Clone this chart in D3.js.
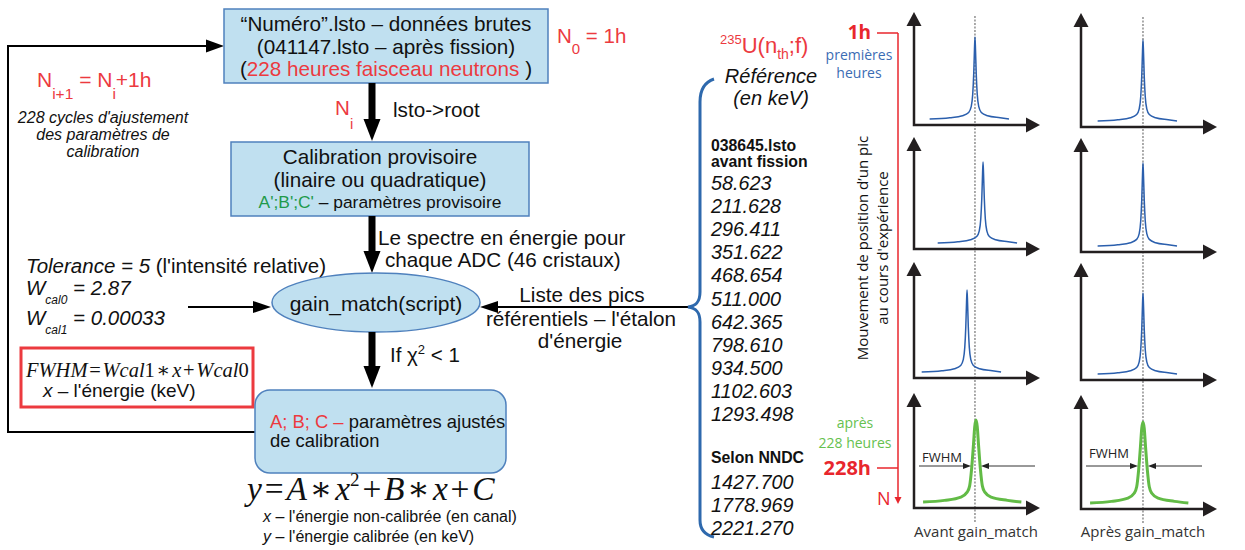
<!DOCTYPE html>
<html>
<head>
<meta charset="utf-8">
<script src="https://cdn.jsdelivr.net/npm/d3@7"></script>
<style>
  body { margin: 0; background: #fff; }
  svg { display: block; }
</style>
</head>
<body>
<script>
const width = 1245;
const height = 550;

// reference energies (keV)
const refAvantFission = [58.623, 211.628, 296.411, 351.622, 468.654, 511.000, 642.365, 798.610, 934.500, 1102.603, 1293.498];
const refNNDC = [1427.700, 1778.969, 2221.270];

// peak position (channel 0-100) in each panel, top to bottom
const avantPeakPos = [48.4, 54.8, 42.1, 49.2];
const apresPeakPos = [49.2, 49.2, 49.2, 49.2];
const panelColor = ["blue", "blue", "blue", "green"];
const columnLabels = ["Avant gain_match", "Après gain_match"];

// peak profiles: channel offset / relative height
const blueDx = [-36, -20, -10, -5, -3, -1.8, -1, -0.4, 0, 0.4, 1, 1.8, 3, 5, 10, 20, 27];
const blueH  = [0, 0.015, 0.04, 0.08, 0.15, 0.3, 0.55, 0.85, 1, 0.85, 0.55, 0.3, 0.15, 0.08, 0.04, 0.015, 0];
const greenDx = [-42, -25, -12, -7, -5, -3.5, -2, -1, 0, 1, 2, 3.5, 5, 7, 12, 25, 36];
const greenH  = [0, 0.02, 0.06, 0.12, 0.2, 0.4, 0.7, 0.92, 1, 0.92, 0.7, 0.4, 0.2, 0.12, 0.06, 0.02, 0];

const RED = "#ec3a3f";
const BOXFILL = "#c0e0f0";
const BOXSTROKE = "#4f81bd";
const SANS = "'Liberation Sans', Arial, sans-serif";
const SERIF = "'Liberation Serif', 'DejaVu Serif', serif";
const MYRIAD = "'Open Sans', 'Noto Sans', sans-serif";
const FS = 20.7; // main flowchart text size

const svg = d3.select("body")
  .append("svg")
  .attr("width", width)
  .attr("height", height);

// text helper: parts = [[text, {attrs}], ...]
function label(x, y, parts, opts = {}) {
  const t = svg.append("text")
    .attr("x", x)
    .attr("y", y)
    .attr("font-family", opts.family || SANS)
    .attr("font-size", opts.size || FS)
    .attr("fill", opts.fill || "#111")
    .attr("text-anchor", opts.anchor || "start");
  if (opts.italic) t.attr("font-style", "italic");
  if (opts.bold) t.attr("font-weight", "bold");
  if (typeof parts === "string") parts = [[parts, {}]];
  parts.forEach(([s, a]) => {
    const ts = t.append("tspan").text(s);
    Object.entries(a).forEach(([k, v]) => ts.attr(k, v));
  });
  return t;
}

function head(x, y, dir, len, w, color = "#000") {
  let pts;
  if (dir === "right") pts = [[x, y], [x - len, y - w / 2], [x - len, y + w / 2]];
  if (dir === "left") pts = [[x, y], [x + len, y - w / 2], [x + len, y + w / 2]];
  if (dir === "down") pts = [[x, y], [x - w / 2, y - len], [x + w / 2, y - len]];
  if (dir === "up") pts = [[x, y], [x - w / 2, y + len], [x + w / 2, y + len]];
  svg.append("polygon").attr("points", pts.map(p => p.join(",")).join(" ")).attr("fill", color);
}

function thickArrow(x, y1, y2) {
  svg.append("rect").attr("x", x - 3.5).attr("y", y1).attr("width", 7).attr("height", y2 - y1 - 20).attr("fill", "#000");
  head(x, y2, "down", 22, 17);
}

// ---------- flowchart ----------
// feedback loop
svg.append("path")
  .attr("d", "M255,432 L8,432 L8,46 L208,46")
  .attr("fill", "none").attr("stroke", "#000").attr("stroke-width", 2);
head(224, 46, "right", 18, 13);

// box 1
svg.append("rect").attr("x", 224).attr("y", 9).attr("width", 324).attr("height", 74)
  .attr("fill", BOXFILL).attr("stroke", BOXSTROKE).attr("stroke-width", 1.5);
label(386, 31, "“Numéro”.lsto – données brutes", { anchor: "middle" });
label(386, 54, "(041147.lsto – après fission)", { anchor: "middle" });
label(386, 76, [["(", {}], ["228 heures faisceau neutrons", { fill: RED }], [" )", {}]], { anchor: "middle" });

label(557, 43, [["N", {}], ["0", { "font-size": 15, dy: 11 }], [" = 1h", { dy: -11 }]], { fill: RED, size: 20.5 });

thickArrow(372, 83, 141);
label(335, 115, "N", { fill: RED, size: 20.5 });
label(350, 129, "i", { fill: RED, size: 15 });
label(393, 117, "lsto->root");

// box 2
svg.append("rect").attr("x", 231).attr("y", 142).attr("width", 298).attr("height", 74)
  .attr("fill", BOXFILL).attr("stroke", BOXSTROKE).attr("stroke-width", 1.5);
label(380, 164, "Calibration provisoire", { anchor: "middle" });
label(380, 187, "(linaire ou quadratique)", { anchor: "middle" });
label(380, 208, [["A';B';C'", { fill: "#1f9a4b" }], [" – paramètres provisoire", {}]], { anchor: "middle", size: 17.4 });

thickArrow(372, 216, 273);
label(378, 245, "Le spectre en énergie pour");
label(385, 267, "chaque ADC (46 cristaux)");

// left parameters
label(37, 87, [["N", {}], ["i+1", { "font-size": 15.5, dy: 12 }], [" = N", { dy: -12 }], ["i", { "font-size": 15.5, dy: 12 }], ["+1h", { dy: -12 }]], { fill: RED, size: 21 });
label(103, 123, "228 cycles d'ajustement", { anchor: "middle", italic: true, size: 16 });
label(103, 140, "des paramètres de", { anchor: "middle", italic: true, size: 16 });
label(103, 157, "calibration", { anchor: "middle", italic: true, size: 16 });

label(26, 273, [["Tolerance = 5", { "font-style": "italic" }], [" (l'intensité relative)", {}]], { size: 20.5 });
label(26, 295, [["W", {}], ["cal0", { "font-size": 12, dy: 9 }], [" = 2.87", { dy: -9 }]], { italic: true, size: 20.5 });
label(26, 325, [["W", {}], ["cal1", { "font-size": 12, dy: 9 }], [" = 0.00033", { dy: -9 }]], { italic: true, size: 20.5 });
svg.append("line").attr("x1", 188).attr("y1", 307).attr("x2", 254).attr("y2", 307).attr("stroke", "#000").attr("stroke-width", 2);
head(271, 307, "right", 18, 12);

// FWHM red box
svg.append("rect").attr("x", 21).attr("y", 348).attr("width", 232).attr("height", 59)
  .attr("fill", "none").attr("stroke", RED).attr("stroke-width", 3);
const HS = "\u200A";
label(26, 377, [["FWHM", {}], [HS + "=" + HS, { "font-style": "normal" }], ["Wcal", {}], ["1", { "font-style": "normal" }],
  [HS + "∗" + HS, { "font-style": "normal" }], ["x", {}], [HS + "+" + HS, { "font-style": "normal" }], ["Wcal", {}], ["0", { "font-style": "normal" }]],
  { family: SERIF, italic: true, size: 20.5 });
label(43, 397, [["x", { "font-style": "italic" }], [" –  l'énergie (keV)", {}]], { size: 19 });

// gain_match ellipse
svg.append("ellipse").attr("cx", 376).attr("cy", 302.5).attr("rx", 104).attr("ry", 29.5)
  .attr("fill", BOXFILL).attr("stroke", BOXSTROKE).attr("stroke-width", 1.5);
label(376, 311, "gain_match(script)", { anchor: "middle", size: 21 });

// reference list arrow
svg.append("line").attr("x1", 690).attr("y1", 307).attr("x2", 495).attr("y2", 307).attr("stroke", "#000").attr("stroke-width", 2);
head(480, 307, "left", 18, 12);
label(582, 302, "Liste des pics", { anchor: "middle" });
label(581, 326, "référentiels  –  l'étalon", { anchor: "middle" });
label(580, 348, "d'énergie", { anchor: "middle" });

thickArrow(372, 332, 388);
label(390, 362, [["If χ", {}], ["2", { "font-size": 13, dy: -8 }], [" < 1", { dy: 8 }]], { size: 20.5 });

// box 3
svg.append("rect").attr("x", 255).attr("y", 390).attr("width", 251).attr("height", 83).attr("rx", 15)
  .attr("fill", BOXFILL).attr("stroke", BOXSTROKE).attr("stroke-width", 1.5);
label(270, 428, [["A; B; C – ", { fill: RED }], ["paramètres ajustés", {}]], { size: 18.4 });
label(270, 447, "de calibration", { size: 18.4 });

label(247, 500, [["y", {}], [HS + "=" + HS, { "font-style": "normal" }], ["A", {}], [HS + "∗" + HS, { "font-style": "normal" }], ["x", {}],
  ["2", { "font-size": 19, dy: -14, "font-style": "normal" }], [HS + "+" + HS, { dy: 14, "font-style": "normal" }], ["B", {}],
  [HS + "∗" + HS, { "font-style": "normal" }], ["x", {}], [HS + "+" + HS, { "font-style": "normal" }], ["C", {}]],
  { family: SERIF, italic: true, size: 33.5 });
label(263, 522, [["x", { "font-style": "italic" }], [" – l'énergie non-calibrée (en canal)", {}]], { size: 16 });
label(263, 542, [["y", { "font-style": "italic" }], [" – l'énergie calibrée (en keV)", {}]], { size: 16 });

// ---------- reference energies ----------
label(720, 53, [["235", { "font-size": 13, dy: -9 }], ["U(n", { dy: 9 }], ["th", { "font-size": 14, dy: 6 }], [";f)", { dy: -6 }]], { fill: RED, size: 22 });
label(771, 83, "Référence", { anchor: "middle", italic: true, size: 20 });
label(771, 105, "(en keV)", { anchor: "middle", italic: true, size: 20 });

svg.append("path")
  .attr("d", "M714,79 C705,82 700,90 700,102 L700,292 C700,302 696,306 688,307 C696,308 700,312 700,322 L700,520 C700,530 705,535 714,537")
  .attr("fill", "none").attr("stroke", "#2e69ad").attr("stroke-width", 3);

label(711, 151, "038645.lsto", { bold: true, size: 15.8 });
label(711, 167, "avant fission", { bold: true, size: 15.8 });
const listY = d3.scaleLinear().domain([0, 10]).range([190, 421]);
const fmt = d3.format(".3f");
svg.selectAll(".ref-avant")
  .data(refAvantFission)
  .enter()
  .append("text")
  .attr("class", "ref-avant")
  .attr("x", 711)
  .attr("y", (d, i) => listY(i))
  .attr("font-family", SANS).attr("font-style", "italic").attr("font-size", 19.8).attr("fill", "#111")
  .text(d => fmt(d));
label(711, 463, "Selon NNDC", { bold: true, size: 15.8 });
svg.selectAll(".ref-nndc")
  .data(refNNDC)
  .enter()
  .append("text")
  .attr("class", "ref-nndc")
  .attr("x", 711)
  .attr("y", (d, i) => 489 + listY(i) - listY(0))
  .attr("font-family", SANS).attr("font-style", "italic").attr("font-size", 19.8).attr("fill", "#111")
  .text(d => fmt(d));

// ---------- peak panels ----------
const RED2 = "#e8262d";
svg.append("line").attr("x1", 898).attr("y1", 33).attr("x2", 898).attr("y2", 498).attr("stroke", RED2).attr("stroke-width", 1.5);
head(898, 504, "down", 7, 7, RED2);
svg.append("line").attr("x1", 877).attr("y1", 33).attr("x2", 898).attr("y2", 33).attr("stroke", RED2).attr("stroke-width", 1.5);
svg.append("line").attr("x1", 877).attr("y1", 468).attr("x2", 898).attr("y2", 468).attr("stroke", RED2).attr("stroke-width", 1.5);
label(871, 39, "1h", { family: MYRIAD, bold: true, size: 19, fill: RED2, anchor: "end" });
label(859, 60, "premières", { family: MYRIAD, size: 14, fill: "#3b6cb4", anchor: "middle" });
label(859, 78, "heures", { family: MYRIAD, size: 14, fill: "#3b6cb4", anchor: "middle" });
label(855, 428, "après", { family: MYRIAD, size: 14, fill: "#66c14f", anchor: "middle" });
label(855, 448, "228 heures", { family: MYRIAD, size: 14, fill: "#66c14f", anchor: "middle" });
label(871, 475, "228h", { family: MYRIAD, bold: true, size: 20, fill: RED2, anchor: "end" });
label(877, 505, "N", { family: MYRIAD, size: 18, fill: RED2 });

svg.append("text")
  .attr("transform", "translate(868,248) rotate(-90)")
  .attr("text-anchor", "middle").attr("font-family", MYRIAD).attr("font-size", 15).attr("fill", "#111")
  .text("Mouvement de position d’un pic");
svg.append("text")
  .attr("transform", "translate(888,248) rotate(-90)")
  .attr("text-anchor", "middle").attr("font-family", MYRIAD).attr("font-size", 15).attr("fill", "#111")
  .text("au cours d'expérience");

const columns = [
  { x0: 914, len: 126, pos: avantPeakPos, axisY: [125, 249, 378, 508], tipY: [12, 137, 262, 393], topY: [37, 162, 290, 420], fw: [462, 466] },
  { x0: 1081, len: 136, pos: apresPeakPos, axisY: [127, 252, 380, 509], tipY: [13, 138, 263, 395], topY: [40, 163, 293, 422], fw: [458, 466] }
];

const AXIS = "#231f20";
columns.forEach((col, ci) => {
  const x = d3.scaleLinear().domain([0, 100]).range([col.x0, col.x0 + 126]);
  const peakX = x(col.pos[3]);

  // dotted reference line
  svg.append("line")
    .attr("x1", x(col.pos[0])).attr("x2", x(col.pos[0]))
    .attr("y1", col.tipY[0] + 4).attr("y2", col.axisY[3] + 14)
    .attr("stroke", "#444").attr("stroke-width", 0.9).attr("stroke-dasharray", "2,1.5");

  col.pos.forEach((p, pi) => {
    const y = d3.scaleLinear().domain([0, 1]).range([col.axisY[pi] - 6, col.topY[pi]]);
    const green = panelColor[pi] === "green";
    const dx = green ? greenDx : blueDx;
    const hh = green ? greenH : blueH;
    const line = d3.line()
      .x((d, i) => x(p + d))
      .y((d, i) => y(hh[i]))
      .curve(d3.curveMonotoneX);
    svg.append("path")
      .attr("d", line(dx))
      .attr("fill", "none")
      .attr("stroke", green ? "#62bb46" : "#2b5fad")
      .attr("stroke-width", green ? 3 : 1.5);

    // axes
    svg.append("path")
      .attr("d", `M${col.x0},${col.tipY[pi] + 12} L${col.x0},${col.axisY[pi]} L${col.x0 + col.len - 12},${col.axisY[pi]}`)
      .attr("fill", "none").attr("stroke", AXIS).attr("stroke-width", 2.5);
    head(col.x0, col.tipY[pi], "up", 14, 15, AXIS);
    head(col.x0 + col.len, col.axisY[pi], "right", 14, 15, AXIS);
  });

  // FWHM marker on the last panel
  const fy = col.fw[1];
  label(col.x0 + 8, col.fw[0], "FWHM", { family: MYRIAD, size: 13, fill: "#222" });
  svg.append("line").attr("x1", col.x0 + 5).attr("x2", peakX - 12).attr("y1", fy).attr("y2", fy).attr("stroke", "#333").attr("stroke-width", 1);
  head(peakX - 5, fy, "right", 8, 6, "#222");
  svg.append("line").attr("x1", col.x0 + 121).attr("x2", peakX + 12).attr("y1", fy).attr("y2", fy).attr("stroke", "#333").attr("stroke-width", 1);
  head(peakX + 5, fy, "left", 8, 6, "#222");

  label(peakX, 537, columnLabels[ci], { family: MYRIAD, size: 15, fill: "#333", anchor: "middle" });
});
</script>
</body>
</html>
